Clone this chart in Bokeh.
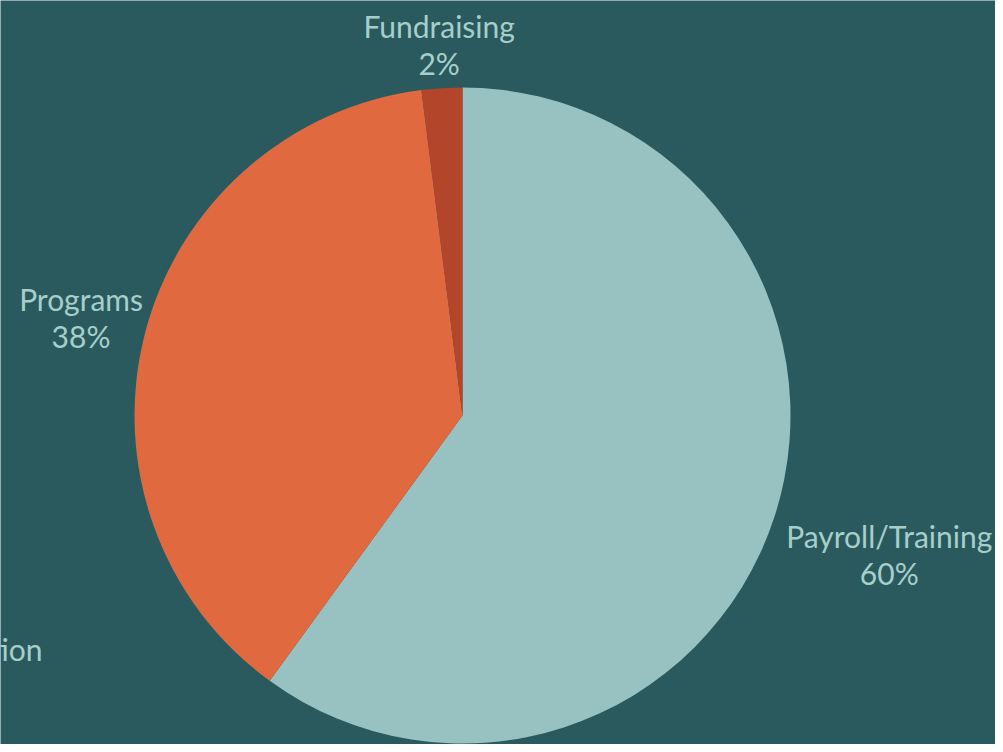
import math
from bokeh.plotting import figure
from bokeh.models import Range1d
from bokeh.core.properties import value
from bokeh.embed import file_html
from bokeh.resources import INLINE

# ---- data ----
categories = ["Payroll/Training", "Programs", "Fundraising"]
values = [60, 38, 2]
colors = ["#97c2c1", "#e0693f", "#b2452a"]
pct_labels = ["60%", "38%", "2%"]
side_label = "Administration"

BG = "#2b5a5e"
TXT = "#a6cfcb"
FONT = "Lato"
FS = 30

W, H = 995, 744
p = figure(width=W, height=H, output_backend="svg", toolbar_location=None,
           x_range=Range1d(0, W), y_range=Range1d(0, H), min_border=0,
           background_fill_color=BG, border_fill_color=BG, outline_line_color=None)
p.axis.visible = False
p.grid.visible = False

cx, cy, R = 462, 329, 328
total = float(sum(values))
starts, ends, mids = [], [], []
cum = 0.0
for v in values:
    a0 = math.pi / 2 - 2 * math.pi * cum / total
    cum += v
    a1 = math.pi / 2 - 2 * math.pi * cum / total
    starts.append(a0)
    ends.append(a1)
    mids.append((a0 + a1) / 2)

p.wedge(x=[cx] * len(values), y=[cy] * len(values), radius=R,
        start_angle=starts, end_angle=ends, direction="clock",
        fill_color=colors, line_color=None)

# labels outside each slice, pushed out along the mid-angle by half their extent
gap = 2
half_h = 37
line_off = 18.5
for name, pct, m in zip(categories, pct_labels, mids):
    dx, dy = math.cos(m), math.sin(m)
    half_w = len(name) * 0.47 * FS / 2
    dist = R + gap + abs(dx) * half_w + abs(dy) * half_h
    lx = cx + dx * dist
    ly = cy + dy * dist
    p.text(x=[lx], y=[ly + line_off], text=[name], text_align="center", text_baseline="middle",
           text_font=value(FONT), text_font_size=f"{FS}px", text_color=TXT)
    p.text(x=[lx], y=[ly - line_off], text=[pct], text_align="center", text_baseline="middle",
           text_font=value(FONT), text_font_size=f"{FS}px", text_color=TXT)

# partially visible label of a neighbouring chart (cut by the left edge, as in the original)
p.text(x=[42], y=[96], text=[side_label], text_align="right", text_baseline="middle",
       text_font=value(FONT), text_font_size=f"{FS}px", text_color=TXT)

open("out.html", "w").write(file_html(p, INLINE))
